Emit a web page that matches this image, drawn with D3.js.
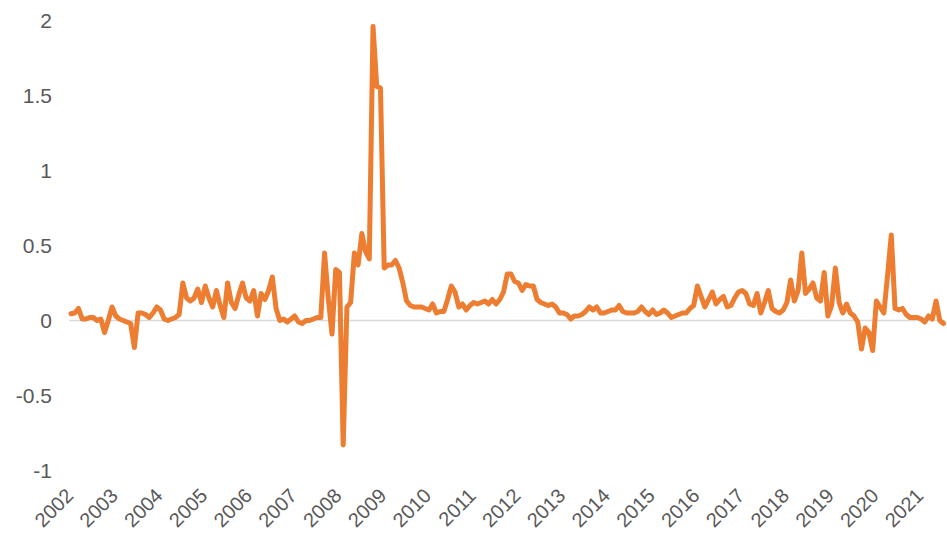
<!DOCTYPE html>
<html>
<head>
<meta charset="utf-8">
<script src="https://cdn.jsdelivr.net/npm/d3@7"></script>
<style>
  body { margin: 0; background: #fff; }
  svg { display: block; font-family: "Liberation Sans", Arial, sans-serif; }
</style>
</head>
<body>
<div id="chart"></div>
<script>
// monthly values, Jan 2002 .. Jul 2021
const values = [
  0.045, 0.05, 0.08, 0.01, 0.01, 0.02, 0.02, 0.0, 0.01, -0.08, 0.0, 0.09,
  0.03, 0.01, 0.0, -0.01, -0.02, -0.18, 0.05, 0.05, 0.04, 0.02, 0.05, 0.09,
  0.07, 0.01, 0.0, 0.01, 0.02, 0.04, 0.25, 0.15, 0.13, 0.15, 0.21, 0.12,
  0.23, 0.15, 0.09, 0.2, 0.1, 0.02, 0.25, 0.12, 0.08, 0.17, 0.25, 0.15,
  0.13, 0.2, 0.03, 0.18, 0.14, 0.2, 0.29, 0.08, 0.0, 0.01, -0.01, 0.01,
  0.03, -0.01, -0.02, 0.0, 0.0, 0.01, 0.02, 0.02, 0.45, 0.15, -0.09, 0.34,
  0.32, -0.83, 0.09, 0.12, 0.45, 0.37, 0.58, 0.46, 0.41, 1.96, 1.56, 1.55,
  0.35, 0.37, 0.37, 0.4, 0.35, 0.25, 0.13, 0.1, 0.09, 0.09, 0.09, 0.08,
  0.07, 0.11, 0.05, 0.06, 0.06, 0.14, 0.23, 0.19, 0.09, 0.11, 0.07, 0.1,
  0.12, 0.11, 0.12, 0.13, 0.11, 0.14, 0.11, 0.14, 0.19, 0.31, 0.31, 0.26,
  0.25, 0.2, 0.24, 0.23, 0.23, 0.14, 0.12, 0.11, 0.1, 0.11, 0.09, 0.05,
  0.05, 0.04, 0.01, 0.03, 0.03, 0.04, 0.06, 0.09, 0.07, 0.09, 0.05, 0.05,
  0.06, 0.07, 0.07, 0.1, 0.06, 0.05, 0.05, 0.05, 0.06, 0.09, 0.06, 0.04,
  0.07, 0.04, 0.05, 0.07, 0.05, 0.02, 0.03, 0.04, 0.05, 0.05, 0.08, 0.1,
  0.23, 0.16, 0.09, 0.14, 0.19, 0.11, 0.14, 0.16, 0.09, 0.1, 0.15, 0.19,
  0.2, 0.18, 0.11, 0.1, 0.18, 0.05, 0.12, 0.2, 0.08, 0.06, 0.05, 0.07,
  0.12, 0.27, 0.13, 0.2, 0.45, 0.18, 0.21, 0.25, 0.15, 0.13, 0.32, 0.03,
  0.1, 0.35, 0.12, 0.05, 0.11, 0.05, 0.03, -0.01, -0.19, -0.05, -0.08, -0.2,
  0.13, 0.09, 0.05, 0.3, 0.57, 0.08, 0.07, 0.08, 0.04, 0.02, 0.02, 0.02,
  0.01, -0.01, 0.03, 0.01, 0.13, 0.0, -0.02
];
const yearLabels = ["2002", "2003", "2004", "2005", "2006", "2007", "2008", "2009", "2010", "2011",
  "2012", "2013", "2014", "2015", "2016", "2017", "2018", "2019", "2020", "2021"];
const yTicks = [-1, -0.5, 0, 0.5, 1, 1.5, 2];

const width = 947,
    height = 536,
    margin = ({ top: 20.5, right: 3.5, bottom: 65.5, left: 71 });

const svg = d3.select("#chart")
    .append("svg")
    .attr("width", width)
    .attr("height", height)
    .attr("viewBox", [0, 0, width, height]);

let x = d3.scaleLinear()
    .domain([0, values.length - 1])
    .range([margin.left, width - margin.right]);

let y = d3.scaleLinear()
    .domain([-1, 2])
    .range([height - margin.bottom, margin.top]);

// y axis labels only
let yAxis = svg.append("g")
    .attr("transform", "translate(52,0)")
    .call(d3.axisLeft(y).tickValues(yTicks).tickSize(0).tickPadding(0).tickFormat(d => String(d)));
yAxis.select(".domain").remove();
yAxis.selectAll("text")
    .attr("fill", "#595959")
    .style("font-size", "21px");

// zero line
svg.append("line")
    .attr("x1", margin.left - 2)
    .attr("x2", width - 2)
    .attr("y1", y(0))
    .attr("y2", y(0))
    .attr("stroke", "#d9d9d9")
    .attr("stroke-width", 1.5);

// x axis, year labels every 12 months
let xAxis = svg.append("g")
    .attr("transform", "translate(0,497)")
    .call(d3.axisBottom(x)
        .tickValues(d3.range(0, values.length, 12))
        .tickSize(0)
        .tickFormat((d, i) => yearLabels[i]));
xAxis.select(".domain").remove();
xAxis.selectAll("text")
    .attr("y", 0)
    .attr("dy", 0)
    .attr("text-anchor", "end")
    .attr("transform", "translate(3,0) rotate(-45)")
    .attr("fill", "#595959")
    .style("font-size", "20px");

let line = d3.line()
    .x((d, i) => x(i))
    .y(d => y(d));

svg.append("path")
    .datum(values)
    .attr("d", line)
    .attr("fill", "none")
    .attr("stroke", "#ED7D31")
    .attr("stroke-width", 5)
    .attr("stroke-linejoin", "round")
    .attr("stroke-linecap", "round");
</script>
</body>
</html>
